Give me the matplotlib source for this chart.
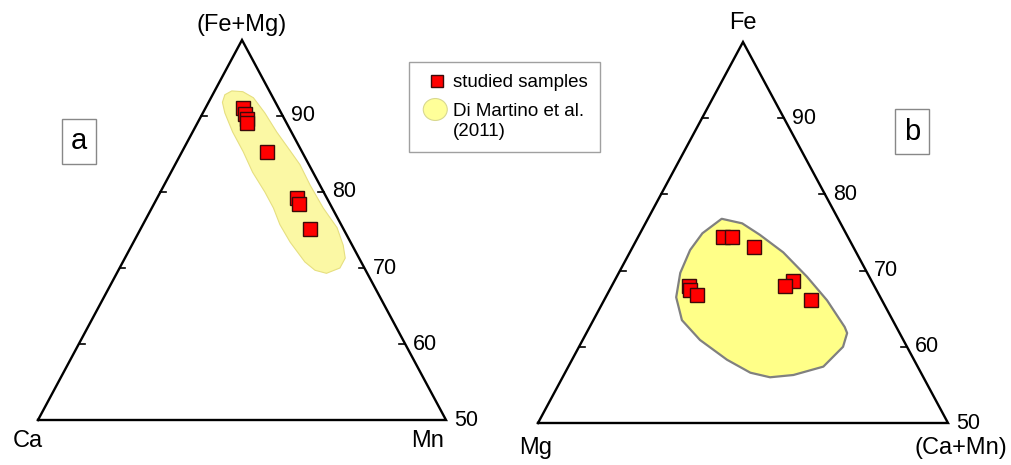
import numpy as np
import matplotlib.pyplot as plt
from matplotlib.patches import Polygon, Ellipse, Patch
from matplotlib.lines import Line2D
from matplotlib.legend_handler import HandlerPatch

plt.rcParams['font.family'] = ['Liberation Sans', 'DejaVu Sans']

# panel a: (Fe+Mg) - Ca - Mn, in %  (apex component, right-corner component)
a_femg = [91.1, 90.3, 89.6, 89.1, 85.3, 79.2, 78.4, 75.1]
a_mn = [4.6, 5.2, 5.8, 6.1, 10.4, 17.1, 17.8, 20.8]

# Di Martino et al. (2011) field, panel a
a_field_femg = [92.8, 93.3, 93.2, 92.4, 90.4, 87.9, 85.5, 83.6, 80.9, 77.9, 75.3, 73.0, 71.3,
                70.0, 69.3, 69.7, 70.8, 73.4, 75.7, 77.9, 80.0, 82.6, 85.3, 87.9, 90.4, 91.8]
a_field_mn = [1.5, 2.1, 3.5, 5.2, 7.6, 10.3, 13.1, 15.3, 17.9, 21.0, 24.0, 25.9, 27.0,
              27.0, 25.7, 24.1, 22.3, 19.2, 16.8, 14.9, 12.8, 10.0, 7.5, 4.9, 2.7, 1.7]

# panel b: Fe - Mg - (Ca+Mn), in %
b_fe = [74.4, 74.4, 73.1, 68.0, 67.5, 66.8, 68.6, 68.0, 66.1]
b_camn = [10.4, 11.5, 14.8, 9.4, 9.8, 11.0, 21.8, 21.1, 25.2]

b_field_fe = [76.8, 76.2, 74.7, 72.4, 69.2, 66.1, 62.6, 61.8, 60.0, 57.4, 56.3, 56.0, 56.6,
              58.3, 60.9, 63.5, 66.5, 69.7, 72.7, 74.9]
b_field_camn = [9.0, 11.8, 14.7, 18.7, 23.2, 27.2, 31.1, 31.8, 32.2, 31.1, 28.0, 25.3, 22.6,
                18.9, 14.3, 10.8, 8.6, 7.5, 7.2, 7.6]

tick_values = [60, 70, 80, 90]
label_values = [50, 60, 70, 80, 90]


def to_xy(apex, right):
    apex = np.asarray(apex, dtype=float)
    right = np.asarray(right, dtype=float)
    return right + apex / 2, apex


class HandlerEllipse(HandlerPatch):
    # ellipse sitting next to the first line of a two-line label
    def create_artists(self, legend, orig_handle, xdescent, ydescent,
                       width, height, fontsize, trans):
        center = 0.5 * width - xdescent - 1, 0.5 * height - ydescent + 0.62 * fontsize
        p = Ellipse(xy=center, width=1.28 * fontsize, height=1.17 * fontsize)
        self.update_prop(p, orig_handle, legend)
        p.set_transform(trans)
        return [p]


def draw_panel(ax, labels, offsets, apex, right, f_apex, f_right, fcolor, ecolor, elw, letter, letter_xy):
    ax.set_xlim(25, 75)
    ax.set_ylim(50, 100)
    ax.axis('off')

    # outline of the triangle (apex 100 %, base at 50 %)
    ax.plot([25, 50, 75, 25], [50, 100, 50, 50], color='black', lw=1.7,
            solid_joinstyle='miter', clip_on=False, zorder=3)

    for t in tick_values:
        ax.plot([100 - t / 2 - 0.7, 100 - t / 2], [t, t], color='black', lw=1.2, clip_on=False)
        ax.plot([t / 2, t / 2 + 0.7], [t, t], color='black', lw=1.2, clip_on=False)
    for t in label_values:
        ax.text(100 - t / 2 + 1.0, t, str(t), fontsize=15.5, va='center', ha='left')

    corners = [(50, 100), (25, 50), (75, 50)]
    for lab, (cx, cy), off in zip(labels, corners, offsets):
        ax.annotate(lab, xy=(cx, cy), xytext=off, textcoords='offset points',
                    ha='center', va='center', fontsize=17, annotation_clip=False)

    fx, fy = to_xy(f_apex, f_right)
    ax.add_patch(Polygon(np.column_stack([fx, fy]), closed=True, facecolor=fcolor,
                         edgecolor=ecolor, lw=elw, joinstyle='round', zorder=1))

    px, py = to_xy(apex, right)
    ax.plot(px, py, 's', ms=10.5, mfc='#ff0000', mec='#3a0a0a', mew=1.0, ls='none', zorder=4)

    ax.text(letter_xy[0], letter_xy[1], letter, transform=ax.transAxes, fontsize=21,
            ha='center', va='center',
            bbox=dict(boxstyle='square,pad=0.3', fc='white', ec='#888888', lw=1))


fig = plt.figure(figsize=(10.11, 4.65), dpi=100)
W, H = 1011, 465

ax1 = fig.add_axes([38 / W, 45 / H, 408 / W, 380 / H])
draw_panel(ax1, ['(Fe+Mg)', 'Ca', 'Mn'], [(0, 11), (-7, -15), (-13, -15)],
           a_femg, a_mn, a_field_femg, a_field_mn, '#fbf8a4', '#e6df80', 0.8,
           'a', (0.1005, 0.733))

ax2 = fig.add_axes([538 / W, 42 / H, 410 / W, 381 / H])
draw_panel(ax2, ['Fe', 'Mg', '(Ca+Mn)'], [(0, 14), (-2, -18), (9, -18)],
           b_fe, b_camn, b_field_fe, b_field_camn, '#ffff88', '#808080', 1.6,
           'b', (0.913, 0.765))

handles = [Line2D([], [], marker='s', ls='none', ms=8.5, mfc='#ff0000', mec='#3a0a0a', mew=1.0),
           Patch(facecolor='#ffff99', edgecolor='#d8d890', lw=0.8)]
leg = fig.legend(handles, ['studied samples', 'Di Martino et al.\n(2011)'],
                 loc='upper left', bbox_to_anchor=(409 / W, 1 - 62 / H), borderaxespad=0,
                 fontsize=13.5, frameon=True, fancybox=False, edgecolor='#888888',
                 handlelength=1.65, handletextpad=0.05, borderpad=0.65, labelspacing=0.6,
                 handler_map={Patch: HandlerEllipse()})
leg.get_frame().set_linewidth(1.0)
for txt in leg.get_texts():
    txt.set_linespacing(1.25)

fig.savefig('out.png', dpi=100)
